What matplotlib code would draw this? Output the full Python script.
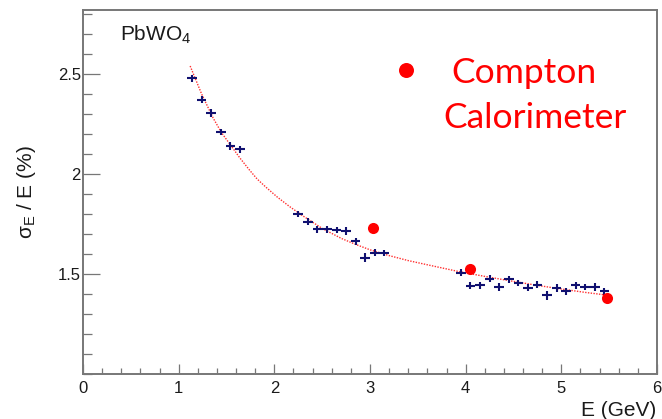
import numpy as np
import matplotlib.pyplot as plt
from matplotlib.ticker import MultipleLocator

# Data (E in GeV, sigma_E/E in %)
E_pts = [1.14, 1.24, 1.34, 1.44, 1.54, 1.64,
         2.25, 2.35, 2.45, 2.55, 2.65, 2.75, 2.85, 2.95, 3.05, 3.15,
         3.95, 4.05, 4.15, 4.25, 4.35, 4.45, 4.55, 4.65, 4.75, 4.85,
         4.95, 5.05, 5.15, 5.25, 5.35, 5.45]
res_pts = [2.478, 2.372, 2.305, 2.210, 2.142, 2.123,
           1.800, 1.762, 1.724, 1.724, 1.720, 1.714, 1.663, 1.582, 1.607, 1.605,
           1.507, 1.441, 1.443, 1.477, 1.435, 1.473, 1.455, 1.432, 1.447, 1.393,
           1.430, 1.413, 1.443, 1.435, 1.435, 1.413]
res_err = [0.018, 0.018, 0.018, 0.016, 0.020, 0.018,
           0.016, 0.016, 0.018, 0.018, 0.016, 0.020, 0.016, 0.024, 0.018, 0.016,
           0.016, 0.018, 0.016, 0.016, 0.020, 0.018, 0.016, 0.016, 0.018, 0.022,
           0.018, 0.016, 0.018, 0.016, 0.018, 0.016]
E_err = 0.05

# Fit curve, points
E_fit = [1.12, 1.24, 1.36, 1.45, 1.55, 1.64, 1.74, 1.82, 1.91, 2.03, 2.16, 2.30,
         2.50, 2.70, 2.85, 3.00, 3.20, 3.40, 3.61, 3.93, 4.20, 4.50, 4.75, 5.00,
         5.25, 5.45]
res_fit = [2.54, 2.40, 2.28, 2.205, 2.14, 2.08, 2.02, 1.975, 1.935, 1.885, 1.837,
           1.79, 1.728, 1.678, 1.648, 1.621, 1.592, 1.567, 1.545, 1.512, 1.488,
           1.463, 1.443, 1.425, 1.408, 1.396]

# Compton calorimeter points
E_compton = [3.03, 4.05, 5.48]
res_compton = [1.73, 1.523, 1.38]


def main():
    plt.rcParams['font.family'] = ['Liberation Sans', 'DejaVu Sans']
    fig = plt.figure(figsize=(6.62, 4.19), dpi=100)
    W, H = 662, 419
    ax = fig.add_axes([83 / W, 1 - 374 / H, (657 - 83) / W, (374 - 10) / H])

    # fit line
    ax.plot(E_fit, res_fit, color='#ff3030', lw=1.0, linestyle=(0, (1, 1)))

    # measured points with error bars
    ax.errorbar(E_pts, res_pts, xerr=E_err, yerr=res_err, fmt='none',
                ecolor='#101070', elinewidth=1.5, capsize=0)

    # Compton calorimeter
    ax.plot(E_compton, res_compton, 'o', color='#ff0000', ms=8, mec='none')

    ax.set_xlim(0, 6)
    ax.set_ylim(1.0, 2.82)
    ax.xaxis.set_major_locator(MultipleLocator(1))
    ax.xaxis.set_minor_locator(MultipleLocator(0.2))
    ax.yaxis.set_minor_locator(MultipleLocator(0.1))
    ax.set_yticks([1.5, 2.0, 2.5])
    ax.set_yticklabels(['1.5', '2', '2.5'])

    gray = '#777777'
    for s in ax.spines.values():
        s.set_color(gray)
        s.set_linewidth(1.4)
    ax.tick_params(axis='both', which='both', direction='in', color=gray,
                   width=0.9, labelcolor='#1a1a1a', labelsize=12)
    ax.tick_params(axis='x', which='major', length=7.2, pad=5)
    ax.tick_params(axis='x', which='minor', length=4.3)
    ax.tick_params(axis='y', which='major', length=12, pad=1.5)
    ax.tick_params(axis='y', which='minor', length=6.5)

    # labels
    fig.text(26 / W, 1 - 192 / H, r'σ$_\mathregular{E}$ / E (%)', rotation=90,
             ha='center', va='center', fontsize=15, color='#1a1a1a')
    fig.text(656 / W, 1 - 410 / H, 'E (GeV)', ha='right', va='center',
             fontsize=15, color='#1a1a1a')
    fig.text(120 / W, 1 - 40 / H, r'PbWO$_\mathregular{4}$', ha='left',
             va='baseline', fontsize=15, color='#1a1a1a')

    # legend-like annotation
    ax.plot([3.375], [2.518], 'o', color='#ff0000', ms=10.8, mec='none',
            clip_on=False)
    fig.text(451 / W, 1 - 83 / H, 'Compton', ha='left', va='baseline',
             fontsize=25.5, color='#ff0000', family=['Lato', 'DejaVu Sans'])
    fig.text(443 / W, 1 - 128 / H, 'Calorimeter', ha='left', va='baseline',
             fontsize=25.5, color='#ff0000', family=['Lato', 'DejaVu Sans'])

    fig.savefig('out.png', dpi=100, facecolor='white')


if __name__ == '__main__':
    main()
